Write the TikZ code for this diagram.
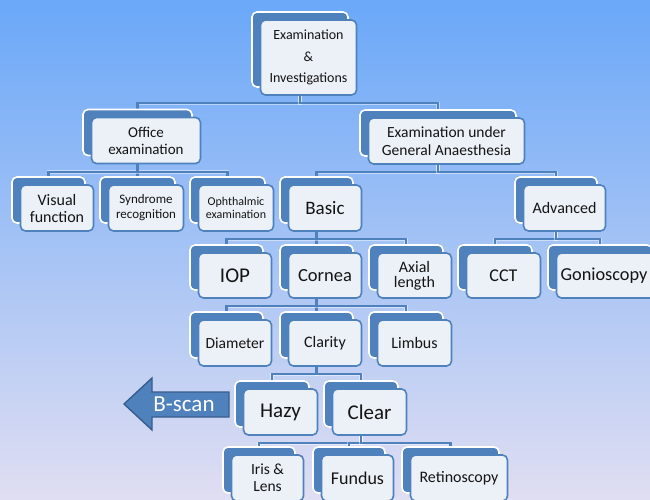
\documentclass[tikz,border=0pt]{standalone}
\usepackage{fontspec}
\setmainfont{Carlito}
\usetikzlibrary{calc}
\definecolor{smBlue}{RGB}{79,129,189}
\definecolor{smDark}{RGB}{56,93,140}
\definecolor{smFront}{RGB}{236,241,248}
\definecolor{smText}{RGB}{20,20,20}
\definecolor{bgTop}{RGB}{106,168,248}
\definecolor{bgBot}{RGB}{224,222,242}
\pgfdeclarelayer{bgfill}
\pgfdeclarelayer{links}
\pgfsetlayers{bgfill,links,main}
\tikzset{
  backbox/.style={draw=white, line width=1.6pt, fill=smBlue, rounded corners=5pt, inner sep=0pt},
  frontbox/.style={draw=smBlue, line width=1.6pt, fill=smFront, rounded corners=5pt,
    inner sep=2pt, align=center, text=smText},
  link/.style={draw=smBlue, line width=2.2pt},
  linkhalo/.style={draw=white, line width=3.6pt, opacity=0.45},
}
% one hierarchy item: back tile (name) and front tile (name-f) carrying the text
% #1 name, #2 cx, #3 cy, #4 width, #5 height, #6 font size, #7 line skip, #8 text
\newcommand\smitem[8]{%
  \node[backbox, minimum width=#4pt, minimum height=#5pt] (#1) at (#2,#3) {};
  \node[frontbox, minimum width=#4pt, minimum height=#5pt,
        font=\fontsize{#6}{#7}\selectfont] (#1-f) at ($(#1)+(8.5,8)$) {#8};}
% parent-to-child elbow connector
\newcommand\smlink[2]{%
  \draw[linkhalo] (#1.south) -- ++(0,15.5) -| (#2.north);
  \draw[link] (#1.south) -- ++(0,15.5) -| (#2.north);}
\begin{document}
\begin{tikzpicture}[x=1pt,y=-1pt]
\useasboundingbox (0,0) rectangle (650,499);
\begin{pgfonlayer}{bgfill}
  \shade[top color=bgTop, bottom color=bgBot] (0,0) rectangle (650,499);
\end{pgfonlayer}

% level 0
\smitem{ei}{300}{49.5}{96}{75}{14}{21.5}{Examination\\\&\\Investigations}
% level 1
\smitem{office}{137.5}{132.5}{109}{46}{15}{17}{Office\\examination}
\smitem{euga}{438}{133}{156}{46}{15.5}{18}{Examination under\\General Anaesthesia}
% level 2
\smitem{visual}{48.5}{200}{73}{46}{16}{17}{Visual\\function}
\smitem{syndrome}{137.5}{200}{75}{46}{13}{15}{Syndrome\\recognition}
\smitem{ophth}{227.5}{200}{75}{46}{12}{13.5}{Ophthalmic\\examination}
\smitem{basic}{316.5}{200}{73}{46}{19}{21}{Basic}
\smitem{advanced}{556}{200}{82}{46}{16}{18}{Advanced}
% level 3
\smitem{iop}{226.5}{267.5}{73}{45}{21}{23}{IOP}
\smitem{cornea}{316.5}{267.5}{73}{45}{18.5}{20}{Cornea}
\smitem{axial}{406}{267.5}{74}{45}{16}{15}{Axial\\length}
\smitem{cct}{495}{267.5}{74}{45}{18}{20}{CCT}
% the label sits a little left of the tile centre so it stays on the page
\smitem{gonio}{600}{267.5}{104}{45}{18.3}{20}{Gonioscopy\hspace*{9pt}}
% level 4
\smitem{diameter}{226.5}{335}{73}{46}{15.5}{17}{Diameter}
\smitem{clarity}{316.5}{335}{73}{46}{16}{18}{Clarity}
\smitem{limbus}{406}{335}{74}{46}{16}{18}{Limbus}
% level 5
\smitem{hazy}{272}{404}{74}{46}{21}{23}{Hazy}
\smitem{clear}{361}{404}{74}{46}{21}{23}{Clear}
% level 6
\smitem{iris}{259}{470}{72}{46}{15.5}{17}{Iris \&\\Lens}
\smitem{fundus}{349}{470}{72}{46}{18}{20}{Fundus}
\smitem{retino}{450.5}{470}{97}{46}{16}{18}{Retinoscopy}

% B-scan block arrow pointing left
\draw[fill=smBlue, draw=smDark, line width=1.4pt, line join=miter]
  (124,404) -- (152,378) -- (152,392) -- (229,392) -- (229,417) -- (152,417) -- (152,430) -- cycle;
\node[text=white, font=\fontsize{23}{25}\selectfont, inner sep=0pt] (bscan) at (184,404.5) {B-scan};

\begin{pgfonlayer}{links}
  \smlink{ei}{office}
  \smlink{ei}{euga}
  \smlink{office}{visual}
  \smlink{office}{syndrome}
  \smlink{office}{ophth}
  \smlink{euga}{basic}
  \smlink{euga}{advanced}
  \smlink{basic}{iop}
  \smlink{basic}{cornea}
  \smlink{basic}{axial}
  \smlink{advanced}{cct}
  \smlink{advanced}{gonio}
  \smlink{cornea}{diameter}
  \smlink{cornea}{clarity}
  \smlink{cornea}{limbus}
  \smlink{clarity}{hazy}
  \smlink{clarity}{clear}
  \smlink{clear}{iris}
  \smlink{clear}{fundus}
  \smlink{clear}{retino}
\end{pgfonlayer}
\end{tikzpicture}
\end{document}
